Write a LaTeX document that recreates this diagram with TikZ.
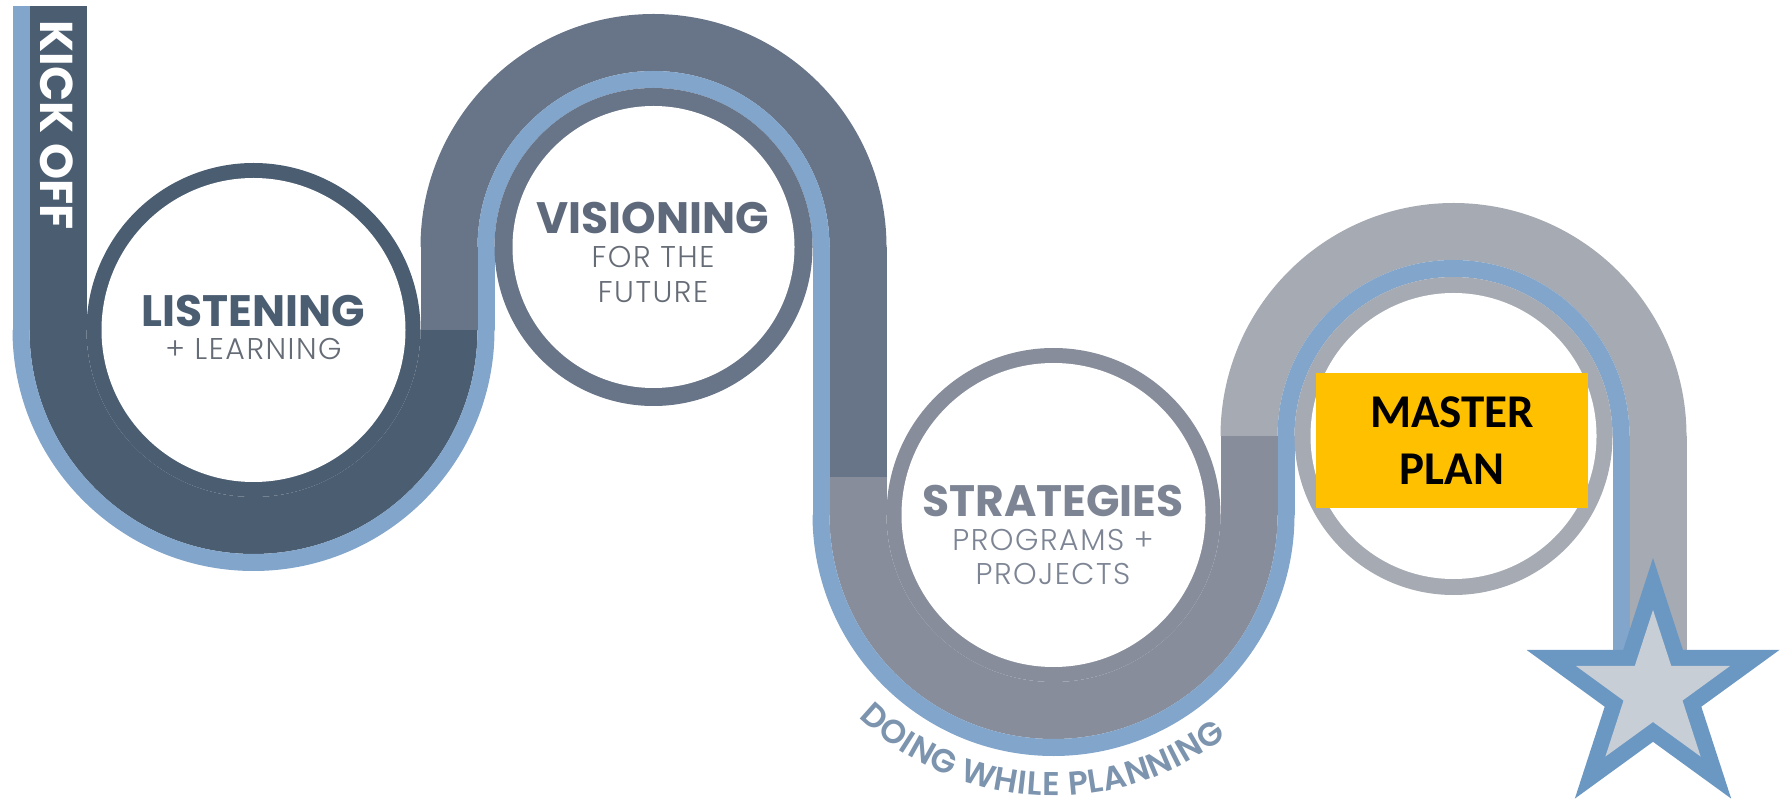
\documentclass[tikz,border=0pt]{standalone}
\usepackage{fontspec}
\setmainfont{Poppins}
\newfontfamily\plight{Poppins Light}[LetterSpace=5]
\newfontfamily\psemi{Poppins SemiBold}
\newfontfamily\calib{Carlito}
\usetikzlibrary{calc,decorations.text}
\definecolor{navy}{HTML}{4B5D71}
\definecolor{visg}{HTML}{687487}
\definecolor{strg}{HTML}{878D9B}
\definecolor{mstg}{HTML}{A6AAB2}
\definecolor{road}{HTML}{82A5CB}
\definecolor{starb}{HTML}{6B98C3}
\definecolor{starf}{HTML}{C8CED6}
\definecolor{ylw}{HTML}{FFC000}
\definecolor{subtxt}{HTML}{666C76}
\definecolor{vistxt}{HTML}{5E6A7C}
\definecolor{strtxt}{HTML}{7D8594}
\definecolor{dwp}{HTML}{7D94AE}
\tikzset{
  title/.style={font=\bfseries\fontsize{44}{44}\selectfont, anchor=base, inner sep=0},
  subtitle/.style={font=\plight\fontsize{30}{30}\selectfont, anchor=base, inner sep=0},
}
\begin{document}
\begin{tikzpicture}[x=1pt,y=1pt]
\useasboundingbox (0,0) rectangle (1787,801);
\coordinate (L) at (253.5,471);
\coordinate (V) at (653.5,554);
\coordinate (S) at (1053.5,286);
\coordinate (M) at (1453.5,365);
\coordinate (SC) at (1653,110);

% ---- listening (navy) ----
\fill[navy] (29.5,795) rectangle (86.5,471);
\fill[navy] (29.5,471) arc[start angle=180,end angle=360,radius=224] -- (420.5,471) arc[start angle=0,end angle=-180,radius=167] -- cycle;
\fill[road] (12.5,795) rectangle (29.5,471);
\fill[road] (12.5,471) arc[start angle=180,end angle=360,radius=241] -- (477.5,471) arc[start angle=0,end angle=-180,radius=224] -- cycle;

% ---- visioning ----
\fill[visg] (420.5,471) rectangle (477.5,554);
\fill[visg] (886.5,554) arc[start angle=0,end angle=180,radius=233] -- (477.5,554) arc[start angle=180,end angle=0,radius=176] -- cycle;
\fill[visg] (829.5,554) rectangle (886.5,324);
\fill[road] (477.5,471) rectangle (494.5,554);
\fill[road] (829.5,554) arc[start angle=0,end angle=180,radius=176] -- (494.5,554) arc[start angle=180,end angle=0,radius=159] -- cycle;
\fill[road] (812.5,554) rectangle (829.5,286);

% ---- strategies ----
\fill[strg] (829.5,286) rectangle (886.5,324);
\fill[strg] (829.5,286) arc[start angle=180,end angle=360,radius=224] -- (1220.5,286) arc[start angle=0,end angle=-180,radius=167] -- cycle;
\fill[strg] (1220.5,286) rectangle (1277.5,365);
\fill[road] (812.5,286) arc[start angle=180,end angle=360,radius=241] -- (1277.5,286) arc[start angle=0,end angle=-180,radius=224] -- cycle;
\fill[road] (1277.5,286) rectangle (1294.5,365);

% ---- master plan ----
\fill[mstg] (1686.5,365) arc[start angle=0,end angle=180,radius=233] -- (1277.5,365) arc[start angle=180,end angle=0,radius=176] -- cycle;
\fill[mstg] (1629.5,365) rectangle (1686.5,146);
\fill[road] (1629.5,365) arc[start angle=0,end angle=180,radius=176] -- (1294.5,365) arc[start angle=180,end angle=0,radius=159] -- cycle;
\fill[road] (1612.5,365) rectangle (1629.5,146);

% ---- circles ----
\fill[navy] (L) circle[radius=167];
\fill[white] (L) circle[radius=152];
\fill[visg] (V) circle[radius=159];
\fill[white] (V) circle[radius=141];
\fill[strg] (S) circle[radius=167];
\fill[white] (S) circle[radius=152];
\fill[mstg] (M) circle[radius=159];
\fill[white] (M) circle[radius=143];

% ---- star ----
\fill[starb] ($(SC)+(90:133)$) -- ($(SC)+(126:50.8)$) -- ($(SC)+(162:133)$) -- ($(SC)+(198:50.8)$) -- ($(SC)+(234:133)$) -- ($(SC)+(270:50.8)$) -- ($(SC)+(306:133)$) -- ($(SC)+(342:50.8)$) -- ($(SC)+(18:133)$) -- ($(SC)+(54:50.8)$) -- cycle;
\fill[starf] ($(SC)+(90:81)$) -- ($(SC)+(126:31)$) -- ($(SC)+(162:81)$) -- ($(SC)+(198:31)$) -- ($(SC)+(234:81)$) -- ($(SC)+(270:31)$) -- ($(SC)+(306:81)$) -- ($(SC)+(342:31)$) -- ($(SC)+(18:81)$) -- ($(SC)+(54:31)$) -- cycle;

% ---- texts ----
\node[rotate=-90, font=\bfseries\fontsize{46}{46}\selectfont, text=white, inner sep=0] (kick) at (57,676) {KICK OFF};
\node[title, text=navy] (lis) at (253.5,474) {LISTENING};
\node[subtitle, text=subtxt] (lis2) at (253.5,441) {+ LEARNING};
\node[title, text=vistxt] (vis) at (653,567) {VISIONING};
\node[subtitle, text=subtxt] (vis2) at (653,533) {FOR THE};
\node[subtitle, text=subtxt] (vis3) at (653,498) {FUTURE};
\node[title, text=strtxt] (str) at (1053,284) {STRATEGIES};
\node[subtitle, text=strtxt] (str2) at (1053,251) {PROGRAMS +};
\node[subtitle, text=strtxt] (str3) at (1053,217) {PROJECTS};
\node[fill=ylw, minimum width=272, minimum height=135, inner sep=0] (mp) at (1452,360.5) {};
\node[font=\calib\bfseries\fontsize{47}{47}\selectfont, anchor=base, inner sep=0] (mp1) at (1452,373) {MASTER};
\node[font=\calib\bfseries\fontsize{47}{47}\selectfont, anchor=base, inner sep=0] (mp2) at (1452,316) {PLAN};
\path[decorate, decoration={text along path, text align=fit to path,
  text={|\psemi\fontsize{33}{33}\selectfont\color{dwp}|DOING WHILE PLANNING}}]
  ($(S)+(-134:281)$) arc[start angle=-134,end angle=-52,radius=281];
\end{tikzpicture}
\end{document}
